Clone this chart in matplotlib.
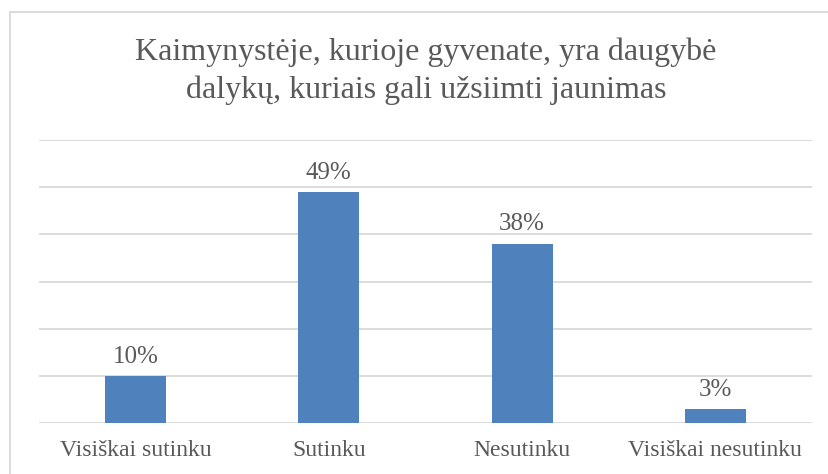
import numpy as np
import matplotlib.pyplot as plt
from matplotlib.patches import Rectangle

"""Data"""
categories = ["Visiškai sutinku", "Sutinku", "Nesutinku", "Visiškai nesutinku"]
values = [10, 49, 38, 3]          #percent
title = "Kaimynystėje, kurioje gyvenate, yra daugybė\ndalykų, kuriais gali užsiimti jaunimas"

plt.rcParams['font.family'] = ['Liberation Serif', 'DejaVu Serif']
grey = '#595959'

fig = plt.figure(figsize=(8.29, 4.74), dpi=100)
ax = fig.add_axes([0.047, 0.1076, 0.9325, 0.597])

x = np.arange(len(categories))
ax.bar(x, values, width=0.316, color='#4F81BD', zorder=3)

for xi, v in zip(x, values):
    ax.annotate(f"{v}%", (xi, v), xytext=(0, 6), textcoords='offset points',
                ha='center', va='bottom', fontsize=18, color=grey)

ax.set_xlim(-0.5, len(categories) - 0.5)
ax.set_ylim(0, 60)
ax.set_yticks(np.arange(0, 61, 10))
ax.yaxis.grid(True, color='#D9D9D9', linewidth=1.3, zorder=0)
ax.tick_params(axis='y', left=False, labelleft=False)
ax.tick_params(axis='x', bottom=False, labelsize=17, labelcolor=grey, pad=9)
ax.set_xticks(x)
ax.set_xticklabels(categories)
for s in ax.spines.values():
    s.set_visible(False)

fig.text(0.514, 0.778, title, ha='center', va='bottom', fontsize=23,
         color=grey, linespacing=1.38)

# chart area border (Excel style)
fig.patches.append(Rectangle((10 / 829, -0.1), 1.0, 1 - 12 / 474 + 0.1,
                             transform=fig.transFigure, fill=False,
                             edgecolor='#D9D9D9', linewidth=1.3))

fig.savefig("out.png", dpi=100)
